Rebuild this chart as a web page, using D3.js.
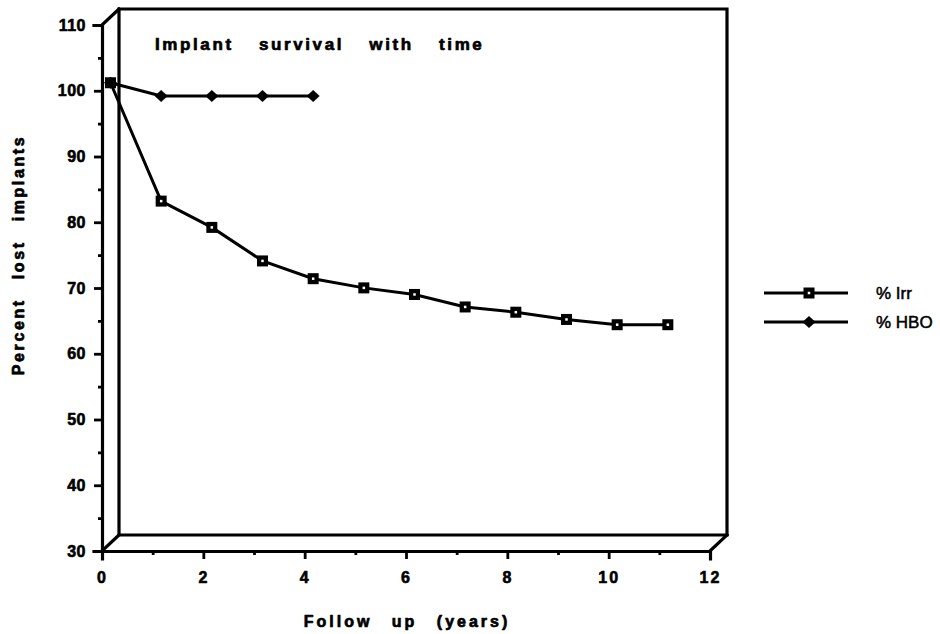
<!DOCTYPE html>
<html><head><meta charset="utf-8">
<script src="https://cdn.jsdelivr.net/npm/d3@7"></script>
<style>
html,body{margin:0;padding:0;background:#fff;}
svg{display:block;font-family:"Liberation Sans",Arial,Helvetica,sans-serif;}
</style></head>
<body>
<svg id="c" width="940" height="634"></svg>
<script>
const years = [0,1,2,3,4,5,6,7,8,9,10,11];
const irr = [100,82,78,72.9,70.2,68.8,67.8,65.9,65.1,64.0,63.2,63.2];
const hboYears = [0,1,2,3,4];
const hbo = [100,98,98,98,98];
const yMajor = [30,40,50,60,70,80,90,100,110];
const yMinor = [35,45,55,65,75,85,95,105];
const xMajor = [0,2,4,6,8,10,12];
const xMinor = [1,3,5,7,9,11];
const seriesNames = ["% Irr","% HBO"];
const title = "Implant survival with time";
const xTitle = "Follow up (years)";
const yTitle = "Percent lost implants";

const svg = d3.select("#c");
const x = d3.scaleLinear().domain([0,12]).range([102,710]);
const y = d3.scaleLinear().domain([30,110]).range([551,25]);
const DX = 17, DY = -16;          // depth of the 3D frame
const PX = DX/2, PY = DY/2;       // data sits mid-depth

const x0 = x.range()[0], x1 = x.range()[1], yb = y.range()[0], yt = y.range()[1];
const frame = svg.append("g").attr("fill","none").attr("stroke","#000").attr("stroke-width",3.2).attr("stroke-linecap","square");
frame.append("path").attr("d",`M${x0+DX},${yb+DY}V${yt+DY}H${x1+DX}V${yb+DY}H${x0+DX}`);
frame.append("path").attr("d",`M${x0},${yt}L${x0+DX},${yt+DY}M${x0},${yb}L${x0+DX},${yb+DY}M${x1},${yb}L${x1+DX},${yb+DY}`);

function heavy(sel,w){ return sel.attr("fill","#000").attr("stroke","#000").attr("stroke-width",w).attr("stroke-linejoin","round"); }

const fs = 16;
const yAx = svg.append("g").attr("transform",`translate(${x0},0)`)
  .call(d3.axisLeft(y).tickValues(yMajor).tickSize(8).tickPadding(8).tickFormat(d3.format("d")));
const yAxMin = svg.append("g").attr("transform",`translate(${x0},0)`)
  .call(d3.axisLeft(y).tickValues(yMinor).tickSize(4).tickFormat(""));
const xAx = svg.append("g").attr("transform",`translate(0,${yb})`)
  .call(d3.axisBottom(x).tickValues(xMajor).tickSize(8).tickPadding(13).tickFormat(d3.format("d")));
const xAxMin = svg.append("g").attr("transform",`translate(0,${yb})`)
  .call(d3.axisBottom(x).tickValues(xMinor).tickSize(4).tickFormat(""));
[yAx,yAxMin,xAx,xAxMin].forEach(g=>{
  g.attr("font-family",null).attr("font-size",null);
  g.select(".domain").attr("stroke-width",3.2).attr("stroke","#000").attr("stroke-linecap","square");
  g.selectAll(".tick line").attr("stroke-width",2.8).attr("stroke","#000");
  heavy(g.selectAll(".tick text"),0.6).attr("font-size",fs).attr("font-weight","bold");
});
yAxMin.select(".domain").remove(); xAxMin.select(".domain").remove();
xAx.selectAll(".tick text").attr("letter-spacing","2px");
yAx.selectAll(".tick text").attr("letter-spacing","0.5px");

// data
const line = d3.line().x(d=>x(d[0])+PX).y(d=>y(d[1])+PY);
const irrPts = years.map((t,i)=>[t,irr[i]]);
const hboPts = hboYears.map((t,i)=>[t,hbo[i]]);
svg.append("path").datum(irrPts).attr("d",line).attr("fill","none").attr("stroke","#000").attr("stroke-width",3);
svg.append("path").datum(hboPts).attr("d",line).attr("fill","none").attr("stroke","#000").attr("stroke-width",3);

function square(g,cx,cy){
  g.append("rect").attr("x",cx-5.5).attr("y",cy-5.5).attr("width",11).attr("height",11).attr("fill","#000");
  g.append("rect").attr("x",cx-1.25).attr("y",cy-1.25).attr("width",2.5).attr("height",2.5).attr("fill","#fff");
}
function diamond(g,cx,cy){
  g.append("path").attr("d",`M${cx},${cy-6}L${cx+6.5},${cy}L${cx},${cy+6}L${cx-6.5},${cy}Z`).attr("fill","#000");
}
const mk = svg.append("g");
irrPts.forEach(d=>square(mk,x(d[0])+PX,y(d[1])+PY));
hboPts.forEach(d=>diamond(mk,x(d[0])+PX,y(d[1])+PY));

// titles
heavy(svg.append("text"),0.7).attr("x",155).attr("y",50).attr("font-size",17).attr("font-weight","bold")
  .attr("letter-spacing","2.6px").attr("word-spacing","18px").text(title);
heavy(svg.append("text"),0.7).attr("x",407).attr("y",627).attr("text-anchor","middle").attr("font-size",16).attr("font-weight","bold")
  .attr("letter-spacing","3px").attr("word-spacing","12px").text(xTitle);
heavy(svg.append("text"),0.7).attr("transform","translate(24,255) rotate(-90)").attr("text-anchor","middle").attr("font-size",16).attr("font-weight","bold")
  .attr("letter-spacing","2.6px").attr("word-spacing","12px").text(yTitle);

// legend
const lg = svg.append("g");
const legY = [293,322];
seriesNames.forEach((n,i)=>{
  lg.append("line").attr("x1",764).attr("x2",848).attr("y1",legY[i]).attr("y2",legY[i]).attr("stroke","#000").attr("stroke-width",3);
  if(i===0) square(lg,809,legY[i]); else diamond(lg,809,legY[i]);
  heavy(lg.append("text"),0.5).attr("x",876).attr("y",legY[i]+6).attr("font-size",17).text(n);
});
</script>
</body></html>
